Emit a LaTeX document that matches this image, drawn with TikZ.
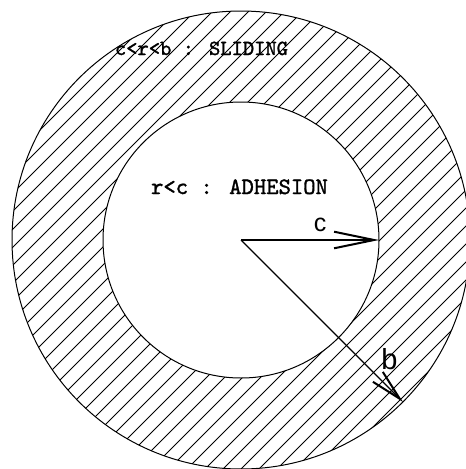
\documentclass[tikz,border=0pt]{standalone}
\usepackage{fontspec}
\newfontfamily\labelfont{Liberation Sans}
\newfontfamily\regionfont{lmmono10-regular}[Extension=.otf, FakeBold=1.3]
\usetikzlibrary{arrows.meta}
\begin{document}
\begin{tikzpicture}[x=1pt,y=-1pt,
  hatch/.style={line width=0.75pt},
  rim/.style={line width=1pt},
  radius arrow/.style={line width=1.2pt},
  region label/.style={anchor=base, inner sep=0pt},
  radius label/.style={inner sep=0pt}]
\useasboundingbox (0,0) rectangle (466,469);
\clip (0,0) rectangle (466,469);
\coordinate (O) at (241,240);
\coordinate (ctip) at (379,240);
\coordinate (btip) at (403,402);
% hatched annulus
\begin{scope}[even odd rule]
  \clip (O) circle[radius=229] (O) circle[radius=138];
  \foreach \i in {0,...,56}
    \draw[hatch] ({8+18*\i+300},-300) -- ({8+18*\i-700},700);
\end{scope}
\draw[rim] (O) circle[radius=229];
\draw[rim] (O) circle[radius=138];
% radii
\draw[radius arrow, -{Straight Barb[length=40pt,width=16.6pt,line width=2pt]}] (O) -- (ctip);
\draw[radius arrow, -{Straight Barb[length=31pt,width=14pt,line width=2pt]}] (O) -- (btip);
% labels
\node[radius label, font=\labelfont\fontsize{25}{25}\selectfont] (clabel) at (320,225) {c};
\node[radius label, font=\labelfont\fontsize{29}{29}\selectfont] (blabel) at (389.5,359) {b};
\node[region label, font=\regionfont\fontsize{21.5}{21.5}\selectfont] (sliding) at (201.5,55) {c<r<b : SLIDING};
\node[region label, font=\regionfont\fontsize{23.5}{23.5}\selectfont] (adhesion) at (239.5,194) {r<c : ADHESION};
\end{tikzpicture}
\end{document}
